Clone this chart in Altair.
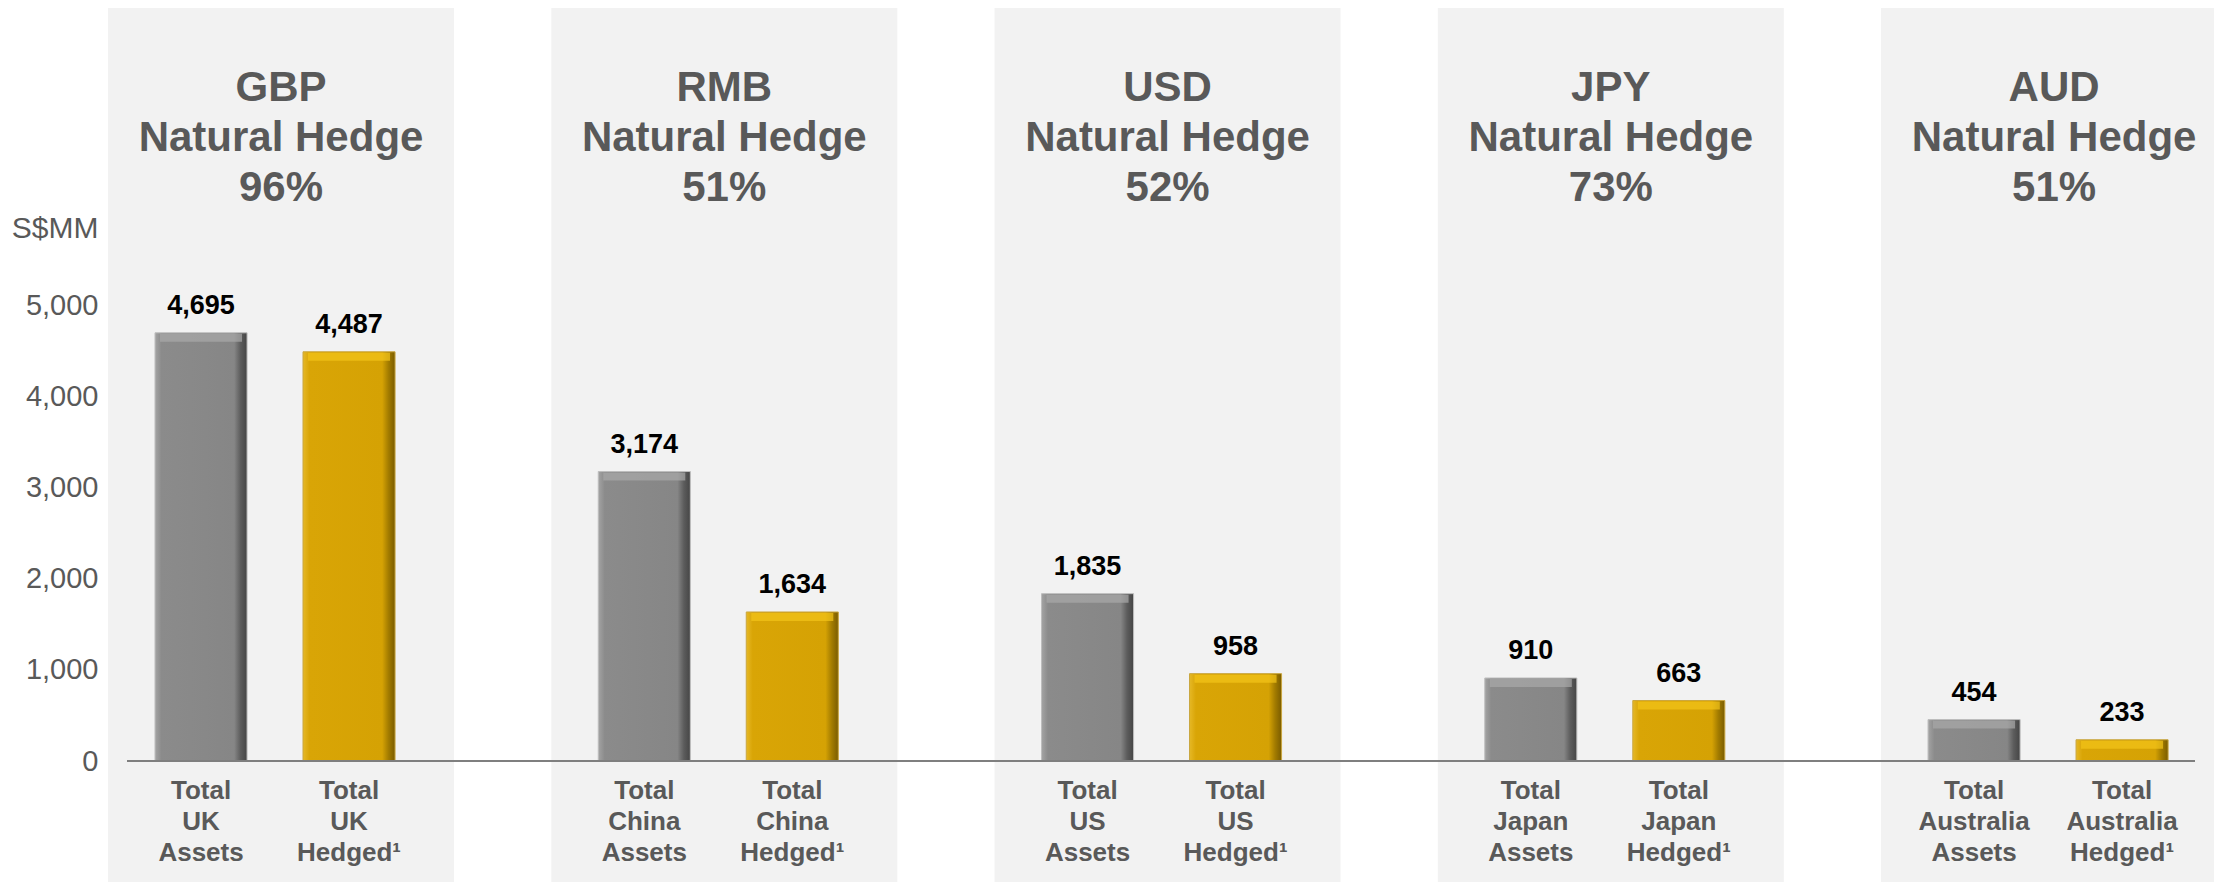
import altair as alt
import pandas as pd

# ---- data ----
currencies = ["GBP", "RMB", "USD", "JPY", "AUD"]
countries = ["UK", "China", "US", "Japan", "Australia"]
hedge_pct = [96, 51, 52, 73, 51]
total_assets = [4695, 3174, 1835, 910, 454]
total_hedged = [4487, 1634, 958, 663, 233]
y_ticks = [0, 1000, 2000, 3000, 4000, 5000]
bar_types = ["Assets", "Hedged"]

FONT = "Liberation Sans, Arial, sans-serif"
GREY_TXT = "#595959"

rows = []
for cur, cty, a, h in zip(currencies, countries, total_assets, total_hedged):
    rows.append({"group": cur, "type": "Assets", "value": a,
                 "label": f"Total\n{cty}\nAssets"})
    rows.append({"group": cur, "type": "Hedged", "value": h,
                 "label": f"Total\n{cty}\nHedged\u00b9"})
bars_df = pd.DataFrame(rows)

panels_df = pd.DataFrame({
    "group": currencies,
    "title": [f"{c}\nNatural Hedge\n{p}%" for c, p in zip(currencies, hedge_pct)],
})
zero_df = pd.DataFrame({"value": [0]})

W, H = 2068, 456

x_enc = alt.X("group:N", sort=currencies,
              scale=alt.Scale(domain=currencies, range=[-73.6, 2142.7],
                              paddingInner=0, paddingOuter=0),
              axis=None)
xoff_enc = alt.XOffset("type:N", sort=bar_types,
                       scale=alt.Scale(domain=bar_types, paddingInner=0.378,
                                       paddingOuter=0.6865))
y_scale = alt.Scale(domain=[0, 5000], nice=False)
y_axis = alt.Axis(values=y_ticks, labelExpr="format(datum.value, ',')",
                  grid=False, domain=False,
                  ticks=False, labelPadding=29, labelFontSize=29,
                  labelColor=GREY_TXT, labelFont=FONT,
                  title="S$MM", titleAngle=0, titleX=-29, titleY=-77,
                  titleAlign="right", titleBaseline="middle",
                  titleFontSize=30, titleFontWeight="normal",
                  titleColor=GREY_TXT, titleFont=FONT)
y_enc = alt.Y("value:Q", scale=y_scale, axis=y_axis)

panels = alt.Chart(panels_df).mark_bar(
    color="#F2F2F2", width=346, xOffset=6
).encode(x=x_enc, y=alt.value(-310), y2=alt.value(600))

grey_grad = alt.Gradient(
    gradient="linear", x1=0, x2=1, y1=0, y2=0,
    stops=[alt.GradientStop(offset=0, color="#a4a4a4"),
           alt.GradientStop(offset=0.07, color="#8b8b8b"),
           alt.GradientStop(offset=0.86, color="#868686"),
           alt.GradientStop(offset=0.93, color="#5c5c5c"),
           alt.GradientStop(offset=1, color="#454545")])
gold_grad = alt.Gradient(
    gradient="linear", x1=0, x2=1, y1=0, y2=0,
    stops=[alt.GradientStop(offset=0, color="#e6b826"),
           alt.GradientStop(offset=0.07, color="#d9a506"),
           alt.GradientStop(offset=0.86, color="#d5a204"),
           alt.GradientStop(offset=0.93, color="#a27b00"),
           alt.GradientStop(offset=1, color="#7a5c00")])

base = alt.Chart(bars_df).encode(x=x_enc, xOffset=xoff_enc)

bars_grey = base.transform_filter(alt.datum.type == "Assets").mark_bar(
    color=grey_grad, stroke="#bdbdbd", strokeWidth=1
).encode(y=y_enc)
bars_gold = base.transform_filter(alt.datum.type == "Hedged").mark_bar(
    color=gold_grad, stroke="#c9a640", strokeWidth=1
).encode(y=y_enc)

bevel_grey = base.transform_filter(alt.datum.type == "Assets").mark_tick(
    color="#a9a9a9", thickness=8, size=82, yOffset=5, orient="horizontal"
).encode(y=y_enc)
bevel_gold = base.transform_filter(alt.datum.type == "Hedged").mark_tick(
    color="#f3c41a", thickness=8, size=82, yOffset=5, orient="horizontal"
).encode(y=y_enc)

axis_line = alt.Chart(zero_df).mark_rule(color="#7f7f7f", strokeWidth=2).encode(
    y=y_enc, x=alt.value(0), x2=alt.value(W))

values = base.mark_text(
    font=FONT, fontSize=27, fontWeight="bold", color="black",
    baseline="middle", dy=-27
).encode(y=y_enc, text=alt.Text("value:Q", format=","))

xlabels = base.mark_text(
    font=FONT, fontSize=26, fontWeight="bold", color=GREY_TXT,
    baseline="middle", lineBreak="\n", lineHeight=31
).encode(y=alt.value(486), text="label:N")

titles = alt.Chart(panels_df).mark_text(
    font=FONT, fontSize=42, fontWeight="bold", color=GREY_TXT,
    baseline="middle", lineBreak="\n", lineHeight=50, dx=6
).encode(x=x_enc, y=alt.value(-217), text="title:N")

chart = alt.layer(
    panels, bars_grey, bars_gold, bevel_grey, bevel_gold, axis_line,
    values, xlabels, titles
).properties(
    width=W, height=H,
    padding={"left": 119, "top": 297, "right": 19, "bottom": 121},
    autosize=alt.AutoSizeParams(type="none"),
    background="white",
).configure_view(stroke=None)

chart.save("out.html", embed_options={"renderer": "svg", "actions": False})
